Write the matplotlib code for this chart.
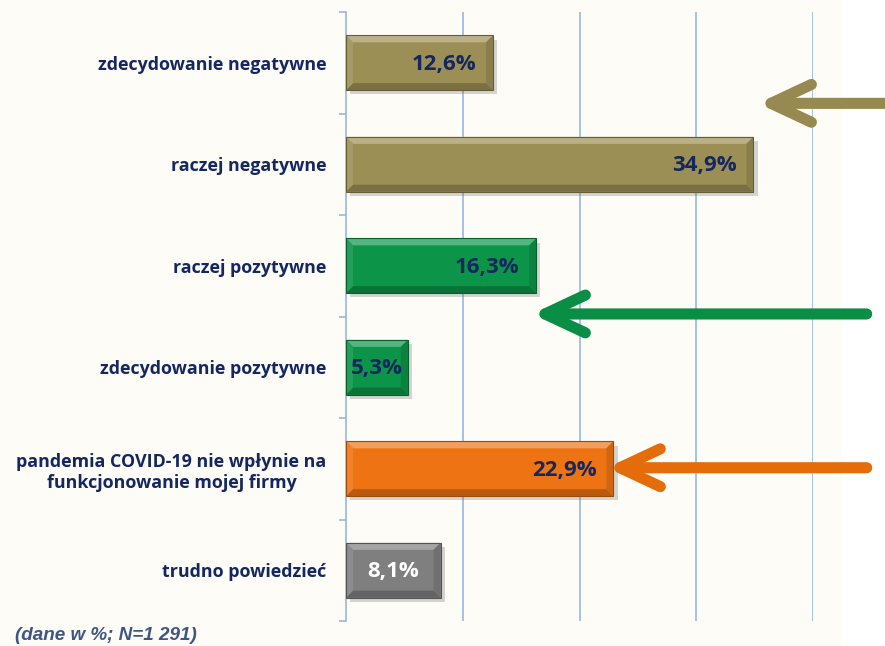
import matplotlib
matplotlib.use("Agg")
import matplotlib.pyplot as plt
import matplotlib.patheffects as pe
from matplotlib.patches import Polygon, Rectangle
from matplotlib.colors import to_rgb
import numpy as np

categories = [
    "zdecydowanie negatywne",
    "raczej negatywne",
    "raczej pozytywne",
    "zdecydowanie pozytywne",
    "pandemia COVID-19 nie wpłynie na\nfunkcjonowanie mojej firmy",
    "trudno powiedzieć",
]
values = [12.6, 34.9, 16.3, 5.3, 22.9, 8.1]
value_labels = ["12,6%", "34,9%", "16,3%", "5,3%", "22,9%", "8,1%"]
bar_colors = ["#9C8F56", "#9C8F56", "#0C9448", "#0C9448", "#EE7413", "#7F7F7F"]
label_colors = ["#14285F", "#14285F", "#14285F", "#14285F", "#14285F", "#FFFFFF"]
footnote = "(dane w %; N=1 291)"

# arrows: (y position in category units, head x, tail x, color)
arrow_y = [0.40, 2.475, 3.99]
arrow_head = [35.29, 15.93, 22.35]
arrow_tail = [47.0, 44.6, 44.6]
arrow_colors = ["#978A50", "#0A8E45", "#E46C0A"]

BG = "#FDFCF7"
NAVY = "#14285F"
GRID = "#8EB4E3"
FONT = "Open Sans"

fig = plt.figure(figsize=(8.85, 6.46), dpi=100, facecolor=BG)
fig.patches.append(Rectangle((842 / 885, 0), 1 - 842 / 885, 1, transform=fig.transFigure,
                             facecolor="white", edgecolor="none", zorder=-10))
ax = fig.add_axes([346 / 885, 1 - 621 / 646, (813 - 346) / 885, (621 - 12) / 646])
ax.set_facecolor("none")

y = np.arange(len(categories))
bars = ax.barh(y, values, height=0.54, color=bar_colors, edgecolor="none", zorder=3)


def mix(c, t, amt):
    c = np.array(to_rgb(c)); t = np.array(to_rgb(t))
    return tuple(c * (1 - amt) + t * amt)


ax.set_xlim(0, 40)
ax.set_ylim(5.5, -0.5)
fig.canvas.draw()
inv = ax.transData.inverted()
p0 = inv.transform((0, 0)); p1 = inv.transform((7, 7))
bx = abs(p1[0] - p0[0]); by = abs(p1[1] - p0[1])

for b, col in zip(bars, bar_colors):
    b.set_path_effects([pe.SimplePatchShadow(offset=(3, -3), alpha=0.22, shadow_rgbFace="#444444"), pe.Normal()])
    x0, yb, w, h = b.get_x(), b.get_y(), b.get_width(), b.get_height()
    x1, yt = x0 + w, yb + h
    top = Polygon([(x0, yb), (x1, yb), (x1 - bx, yb + by), (x0 + bx, yb + by)], closed=True,
                  facecolor=mix(col, "white", 0.3), edgecolor="none", zorder=4)
    bot = Polygon([(x0, yt), (x1, yt), (x1 - bx, yt - by), (x0 + bx, yt - by)], closed=True,
                  facecolor=mix(col, "black", 0.22), edgecolor="none", zorder=4)
    left = Polygon([(x0, yb), (x0 + bx, yb + by), (x0 + bx, yt - by), (x0, yt)], closed=True,
                   facecolor=mix(col, "white", 0.1), edgecolor="none", zorder=4)
    right = Polygon([(x1, yb), (x1 - bx, yb + by), (x1 - bx, yt - by), (x1, yt)], closed=True,
                    facecolor=mix(col, "black", 0.12), edgecolor="none", zorder=4)
    for p in (top, bot, left, right):
        ax.add_patch(p)
    ax.add_patch(Rectangle((x0, yb), w, h, facecolor="none", edgecolor=mix(col, "black", 0.35),
                           linewidth=0.8, zorder=5))

for i, (v, lab, lc) in enumerate(zip(values, value_labels, label_colors)):
    if v < 10:
        ax.text(v / 2, i + 0.015, lab, ha="center", va="center", fontsize=16, fontweight="bold",
                color=lc, family=FONT, zorder=6)
    else:
        ax.text(v - 1.45, i + 0.015, lab, ha="right", va="center", fontsize=16, fontweight="bold",
                color=lc, family=FONT, zorder=6)

ax.set_xticks([10, 20, 30, 40])
ax.xaxis.grid(True, color=GRID, linewidth=1.1, zorder=0)
ax.tick_params(axis="x", length=0, labelbottom=False)
ax.set_axisbelow(True)

ax.set_yticks(y)
ax.set_yticklabels(categories)
ax.tick_params(axis="y", length=0, pad=14)
ax.set_yticks(np.arange(-0.5, 6, 1), minor=True)
ax.tick_params(axis="y", which="minor", length=5, width=1.1, color=GRID, direction="out")
for t in ax.get_yticklabels():
    t.set_fontfamily(FONT)
    t.set_fontweight("bold")
    t.set_fontsize(12.9)
    t.set_color(NAVY)
    t.set_multialignment("center")
    t.set_linespacing(1.2)

for s in ["top", "right", "bottom"]:
    ax.spines[s].set_visible(False)
ax.spines["left"].set_color(GRID)
ax.spines["left"].set_linewidth(1.1)

for yy, xh, xt, c in zip(arrow_y, arrow_head, arrow_tail, arrow_colors):
    ax.annotate("", xy=(xh, yy), xytext=(xt, yy), annotation_clip=False,
                arrowprops=dict(arrowstyle="->,head_length=1.45,head_width=0.68", color=c,
                                lw=8, capstyle="round", joinstyle="round",
                                mutation_scale=20, shrinkA=0, shrinkB=0), zorder=7)

fig.text(15 / 885, 1 - 636 / 646, footnote, ha="left", va="center", fontsize=13.6,
         fontweight="bold", style="italic", color="#3F5585", family="Liberation Sans")

fig.savefig("out.png", dpi=100, facecolor=BG)
